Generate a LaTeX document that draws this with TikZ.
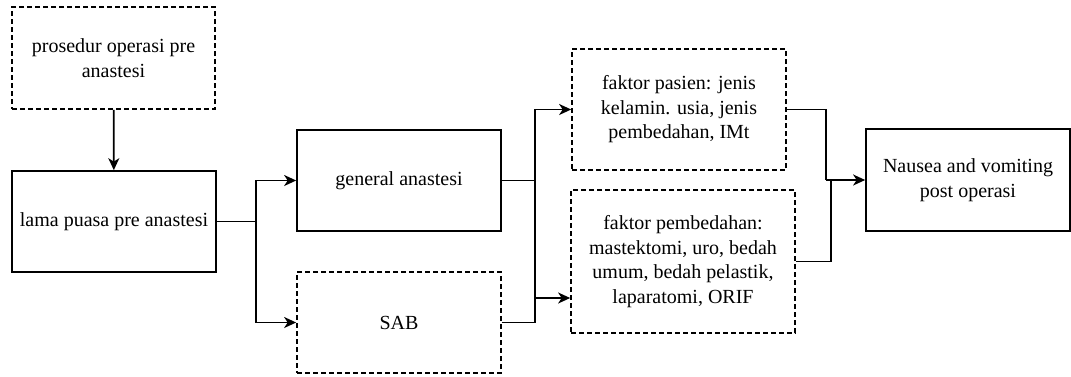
\documentclass[tikz,border=0pt]{standalone}
\usepackage{fontspec}
\setmainfont{Liberation Serif}
\usetikzlibrary{arrows.meta}
\tikzset{
  every picture/.style={
    line width=1.7pt,
    >={Stealth[width=11pt, length=12pt, inset=3.5pt]}
  },
  box/.style={
    draw, align=center, inner sep=2pt,
    font=\fontsize{20}{24.5}\selectfont
  },
  dashbox/.style={
    box, dash pattern=on 5pt off 3pt
  }
}
\begin{document}
\begin{tikzpicture}[
      x=1pt, y=-1pt
    ]
    \useasboundingbox (0,0) rectangle (1071,376);
    \node [dashbox,minimum width=203pt,minimum height=102pt] (pro) at (113.5,58) {prosedur operasi pre\\anastesi};
    \node [box,minimum width=204pt,minimum height=101pt] (lama) at (114,221.5) {lama puasa pre anastesi};
    \node [box,minimum width=204pt,minimum height=101pt] (gen) at (399,180.5) {general anastesi};
    \node [dashbox,minimum width=204pt,minimum height=101pt] (sab) at (399,322.5) {SAB};
    \node [dashbox,minimum width=214pt,minimum height=121pt] (pas) at (679,109.5) {faktor pasien: jenis\\kelamin. usia, jenis\\pembedahan, IMt};
    \node [dashbox,minimum width=224pt,minimum height=143pt] (pem) at (683,261.5) {faktor pembedahan:\\mastektomi, uro, bedah\\umum, bedah pelastik,\\laparatomi, ORIF};
    \node [box,minimum width=204pt,minimum height=102pt] (nau) at (968,180) {Nausea and vomiting\\post operasi};
    \coordinate (bus1) at (256,221.5);
    \coordinate (bus2) at (535,180.5);
    \coordinate (bus3) at (826,180);
    \coordinate (bus4) at (831,180);
    \coordinate (pemin) at ([yshift=-36.5pt]pem.west);
    \draw [->] (pro) -- (lama);
    \draw (lama.east) -- (bus1);
    \draw [->] (bus1) |- (gen.west);
    \draw [->] (bus1) |- (sab.west);
    \draw (gen.east) -- (bus2);
    \draw (sab.east) -| (bus2);
    \draw [->] (bus2) |- (pas.west);
    \draw [->] (bus2) |- (pemin);
    \draw (pas.east) -| (bus3);
    \draw (pem.east) -| (bus4);
    \draw [->] (bus3) -- (nau.west);
  \end{tikzpicture}
\end{document}
